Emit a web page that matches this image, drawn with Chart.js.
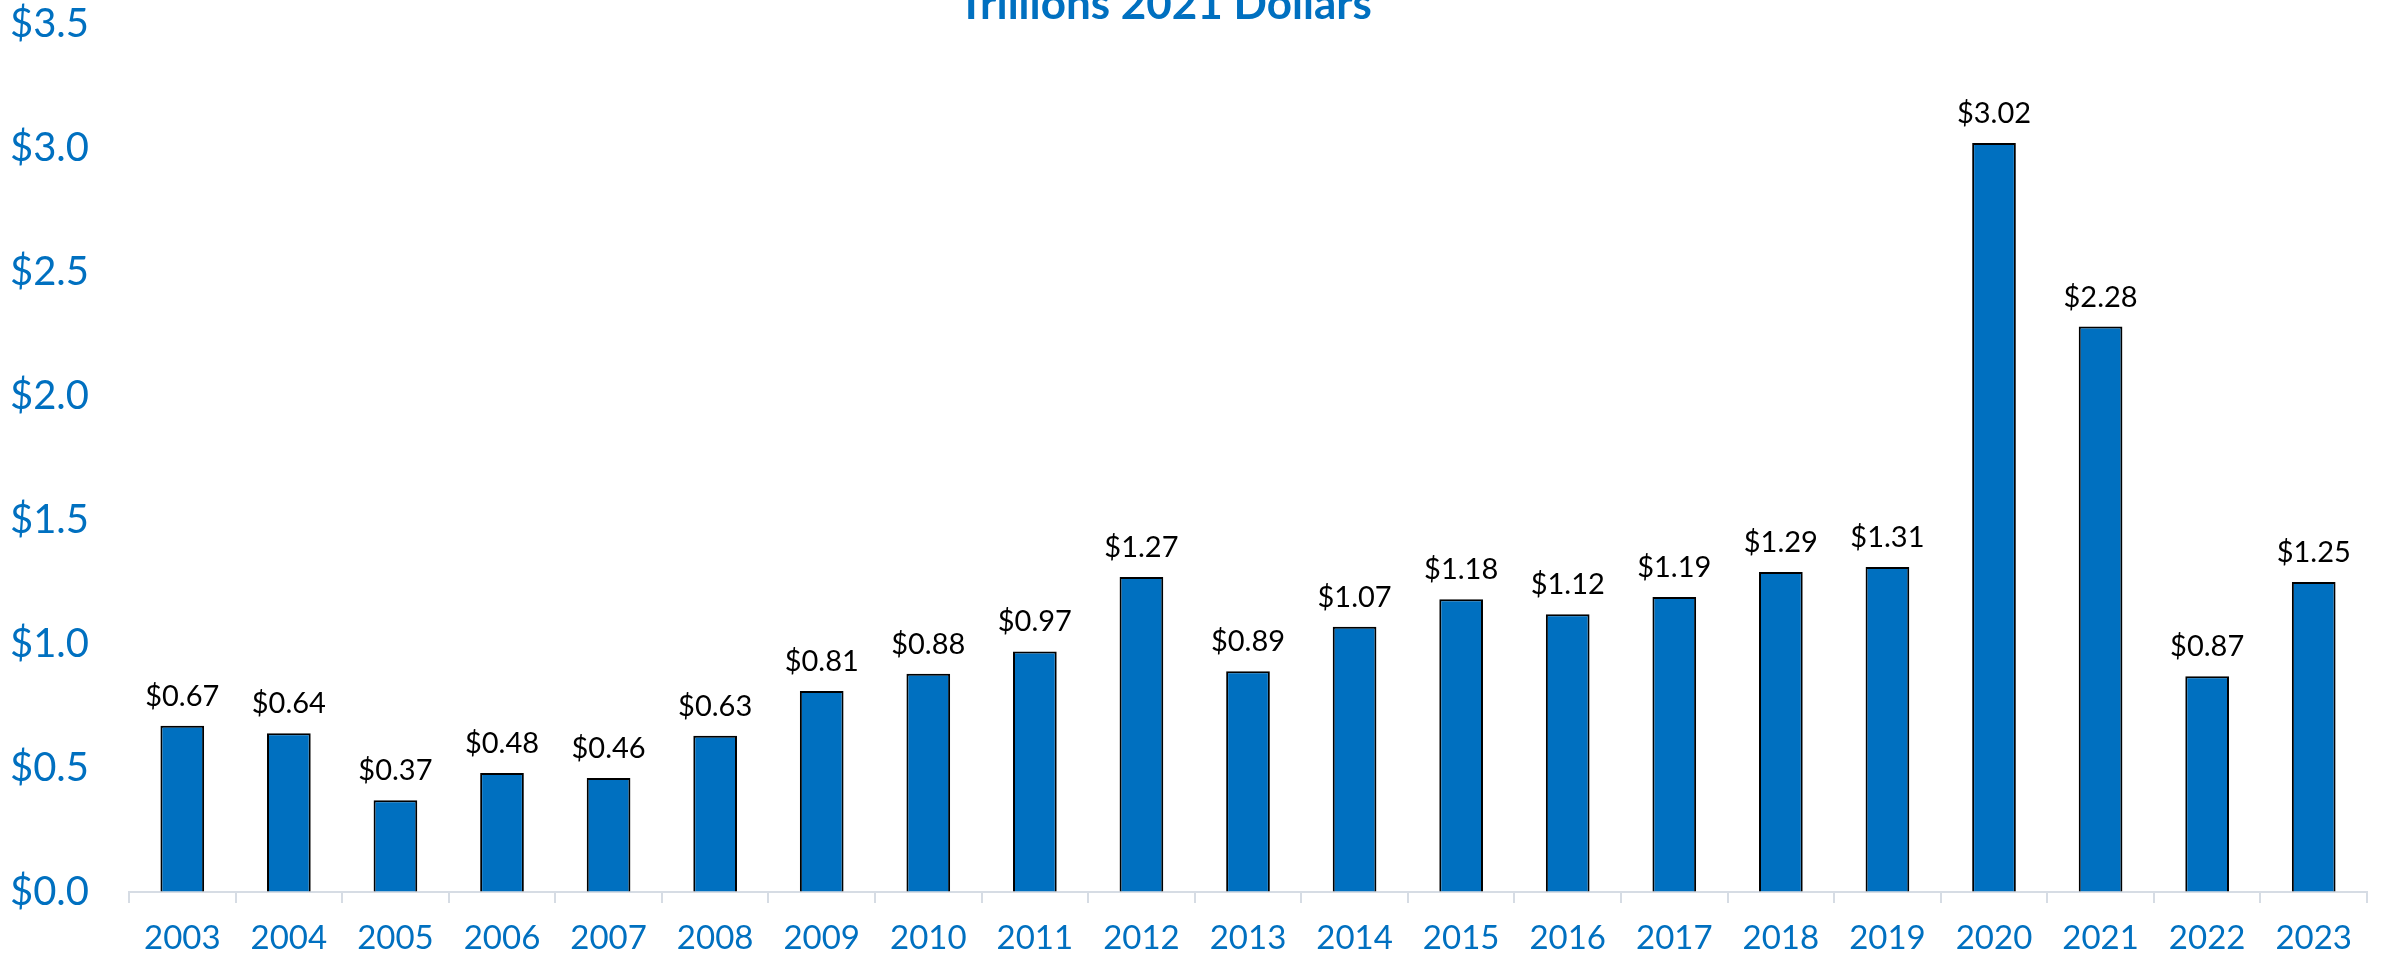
<!DOCTYPE html>
<html lang="en">
<head>
<meta charset="UTF-8">
<title>Trillions 2021 Dollars</title>
<script src="https://cdn.jsdelivr.net/npm/chart.js"></script>
<style>
  html, body { margin: 0; padding: 0; background: #fff; }
  #wrap { width: 2386px; height: 957px; position: relative; }
</style>
</head>
<body>
<div id="wrap"><canvas id="chart"></canvas></div>
<script>
// data
const years = ['2003', '2004', '2005', '2006', '2007', '2008', '2009', '2010', '2011', '2012', '2013',
  '2014', '2015', '2016', '2017', '2018', '2019', '2020', '2021', '2022', '2023']
const trillions = [0.67, 0.64, 0.37, 0.48, 0.46, 0.63, 0.81, 0.88, 0.97, 1.27, 0.89,
  1.07, 1.18, 1.12, 1.19, 1.29, 1.31, 3.02, 2.28, 0.87, 1.25]
const yTicks = [0, 0.5, 1.0, 1.5, 2.0, 2.5, 3.0, 3.5]
const titleText = 'Trillions 2021 Dollars'

const BLUE = '#0070C0'
const FONT = 'Lato, "Open Sans", sans-serif'

// value labels above each bar
const valueLabels = {
  id: 'valueLabels',
  afterDatasetsDraw(chart) {
    const ctx = chart.ctx
    const meta = chart.getDatasetMeta(0)
    ctx.save()
    ctx.font = '29px ' + FONT
    ctx.fillStyle = '#000'
    ctx.textAlign = 'center'
    ctx.textBaseline = 'alphabetic'
    meta.data.forEach((bar, i) => {
      ctx.fillText('$' + trillions[i].toFixed(2), bar.x, bar.y - 20)
    })
    ctx.restore()
  }
}

// title sits partly above the top edge, as in the original
const clippedTitle = {
  id: 'clippedTitle',
  afterDraw(chart) {
    const ctx = chart.ctx
    ctx.save()
    ctx.font = 'bold 44px ' + FONT
    ctx.fillStyle = BLUE
    ctx.textAlign = 'center'
    ctx.textBaseline = 'alphabetic'
    ctx.fillText(titleText, 1165, 19)
    ctx.restore()
  }
}

new Chart(document.getElementById('chart'), {
  type: 'bar',
  data: {
    labels: years,
    datasets: [{
      data: trillions,
      backgroundColor: BLUE,
      borderColor: '#000',
      borderWidth: 2,
      categoryPercentage: 1,
      barPercentage: 0.41
    }]
  },
  options: {
    responsive: true,
    maintainAspectRatio: false,
    animation: false,
    layout: { padding: { top: 23, right: 19, left: 0, bottom: 0 } },
    plugins: {
      legend: { display: false },
      tooltip: { enabled: false },
      title: { display: false }
    },
    scales: {
      x: {
        grid: {
          offset: true,
          drawOnChartArea: false,
          drawTicks: true,
          tickLength: 11,
          color: '#D6DCE4',
          lineWidth: 2
        },
        border: { display: true, color: '#D6DCE4', width: 2 },
        ticks: {
          color: BLUE,
          font: { family: FONT, size: 33 },
          padding: 16,
          maxRotation: 0,
          autoSkip: false
        },
        afterFit(scale) { scale.height = 65 }
      },
      y: {
        min: 0,
        max: 3.5,
        afterBuildTicks(scale) { scale.ticks = yTicks.map(v => ({ value: v })) },
        // invisible tick marks give the gap between labels and plot
        grid: {
          drawOnChartArea: false,
          drawTicks: true,
          tickLength: 40,
          color: 'rgba(0,0,0,0)'
        },
        border: { display: false },
        ticks: {
          color: BLUE,
          font: { family: FONT, size: 40 },
          padding: 0,
          callback: (v) => '$' + Number(v).toFixed(1)
        },
        afterFit(scale) { scale.width = 129 }
      }
    }
  },
  plugins: [valueLabels, clippedTitle]
})
</script>
</body>
</html>
